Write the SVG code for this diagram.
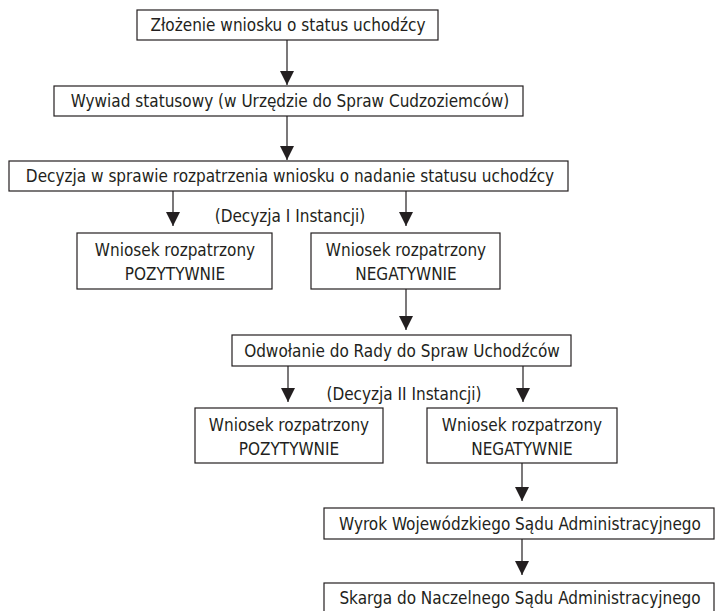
<svg xmlns="http://www.w3.org/2000/svg" width="715" height="611" viewBox="0 0 715 611">
<defs>
<marker id="ah" markerWidth="14" markerHeight="14" viewBox="0 0 14 14" refX="14" refY="7" orient="auto" markerUnits="userSpaceOnUse">
<path d="M0,0 L14,7 L0,14 Z" fill="#231f20"/>
</marker>
<style>
.box{fill:#fff;stroke:#231f20;stroke-width:1.2}
.t{font-family:"DejaVu Sans Condensed","DejaVu Sans",sans-serif;font-stretch:condensed;font-size:17px;fill:#231f20;text-anchor:middle}
.c{stroke:#231f20;stroke-width:1.2;fill:none;marker-end:url(#ah)}
</style>
</defs>
<rect width="715" height="611" fill="#fff"/>
<g id="connectors">
<line class="c" x1="287" y1="40" x2="287" y2="85"/>
<line class="c" x1="287" y1="116" x2="287" y2="160"/>
<line class="c" x1="173" y1="191" x2="173" y2="226"/>
<line class="c" x1="406" y1="191" x2="406" y2="226"/>
<line class="c" x1="406" y1="289" x2="406" y2="330"/>
<line class="c" x1="288" y1="366" x2="288" y2="402"/>
<line class="c" x1="523" y1="366" x2="523" y2="402"/>
<line class="c" x1="522" y1="463" x2="522" y2="501"/>
<line class="c" x1="522" y1="539" x2="522" y2="575"/>
</g>
<g id="n1"><rect class="box" x="137" y="10" width="301" height="30"/><text class="t" x="288" y="31">Złożenie wniosku o status uchodźcy</text></g>
<g id="n2"><rect class="box" x="54" y="86" width="469" height="30"/><text class="t" x="290" y="107">Wywiad statusowy (w Urzędzie do Spraw Cudzoziemców)</text></g>
<g id="n3"><rect class="box" x="9" y="161" width="559" height="30"/><text class="t" x="290" y="182">Decyzja w sprawie rozpatrzenia wniosku o nadanie statusu uchodźcy</text></g>
<g id="l1"><text class="t" x="290" y="222">(Decyzja I Instancji)</text></g>
<g id="n4"><rect class="box" x="77" y="233" width="195" height="56"/><text class="t" x="175" y="256">Wniosek rozpatrzony</text><text class="t" x="175" y="280">POZYTYWNIE</text></g>
<g id="n5"><rect class="box" x="311" y="233" width="189" height="56"/><text class="t" x="406" y="256">Wniosek rozpatrzony</text><text class="t" x="406" y="280">NEGATYWNIE</text></g>
<g id="n6"><rect class="box" x="232" y="335" width="339" height="31"/><text class="t" x="402" y="357">Odwołanie do Rady do Spraw Uchodźców</text></g>
<g id="l2"><text class="t" x="404" y="400">(Decyzja II Instancji)</text></g>
<g id="n7"><rect class="box" x="195" y="408" width="188" height="55"/><text class="t" x="289" y="431">Wniosek rozpatrzony</text><text class="t" x="289" y="455">POZYTYWNIE</text></g>
<g id="n8"><rect class="box" x="427" y="408" width="190" height="55"/><text class="t" x="522" y="431">Wniosek rozpatrzony</text><text class="t" x="522" y="455">NEGATYWNIE</text></g>
<g id="n9"><rect class="box" x="324" y="508" width="390" height="31"/><text class="t" x="520" y="530">Wyrok Wojewódzkiego Sądu Administracyjnego</text></g>
<g id="n10"><rect class="box" x="324" y="583" width="390" height="40"/><text class="t" x="520" y="604">Skarga do Naczelnego Sądu Administracyjnego</text></g>
</svg>
